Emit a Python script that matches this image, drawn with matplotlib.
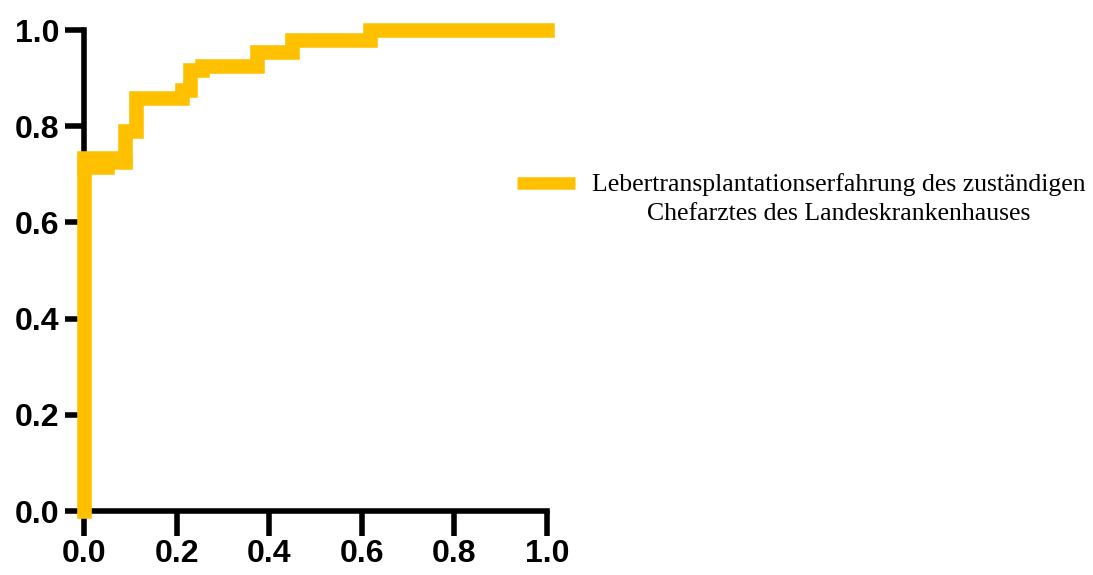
import matplotlib
matplotlib.use("Agg")
import matplotlib.pyplot as plt
from matplotlib.lines import Line2D

# ROC curve (1 - specificity, sensitivity)
fpr = [0.000, 0.000, 0.0886, 0.0886, 0.112, 0.112, 0.211, 0.211, 0.230, 0.230,
       0.254, 0.254, 0.374, 0.374, 0.450, 0.450, 0.617, 0.617, 1.000]
tpr = [0.000, 0.733, 0.733, 0.790, 0.790, 0.859, 0.859, 0.876, 0.876, 0.916,
       0.916, 0.926, 0.926, 0.954, 0.954, 0.980, 0.980, 1.000, 1.000]
# small lower step visible under the first plateau
fpr_low = [0.000, 0.049, 0.049, 0.0886]
tpr_low = [0.715, 0.715, 0.726, 0.726]

xticks = [0.0, 0.2, 0.4, 0.6, 0.8, 1.0]
yticks = [0.0, 0.2, 0.4, 0.6, 0.8, 1.0]
series_label = "Lebertransplantationserfahrung des zuständigen\nChefarztes des Landeskrankenhauses"
color = "#FFC000"

fig = plt.figure(figsize=(10.93, 5.75), dpi=100)
ax = fig.add_axes([84 / 1093, 63.8 / 575, 463 / 1093, 481.2 / 575])

lw = 10.5
ax.plot(fpr_low, tpr_low, color=color, lw=lw, solid_capstyle="projecting",
        solid_joinstyle="miter", clip_on=False, zorder=3)
ax.plot(fpr, tpr, color=color, lw=lw, solid_capstyle="projecting",
        solid_joinstyle="miter", clip_on=False, zorder=3)

ax.set_xlim(0, 1)
ax.set_ylim(0, 1)
for s in ["top", "right"]:
    ax.spines[s].set_visible(False)
for s in ["left", "bottom"]:
    ax.spines[s].set_linewidth(4)
    ax.spines[s].set_capstyle("projecting")

ax.set_xticks(xticks)
ax.set_yticks(yticks)
ax.set_xticklabels([f"{t:.1f}" for t in xticks])
ax.set_yticklabels([f"{t:.1f}" for t in yticks])
ax.tick_params(axis="x", length=18, width=4, pad=2)
ax.tick_params(axis="y", length=13.5, width=4, pad=4)
for lab in ax.get_xticklabels() + ax.get_yticklabels():
    lab.set_fontfamily("Liberation Sans")
    lab.set_fontweight("bold")
    lab.set_fontsize(23)

handle = Line2D([], [], color=color, lw=9, solid_capstyle="butt")
leg = fig.legend([handle], [series_label], loc="upper left",
                 bbox_to_anchor=(499 / 1093, 1 - 155 / 575), frameon=False,
                 prop={"family": "Liberation Serif", "size": 18.5},
                 handlelength=2.26, handletextpad=0.66, borderpad=0.2)
for t in leg.get_texts():
    t.set_multialignment("center")
    t.set_linespacing(1.44)
# align the handle with the first text line
for h in leg.legend_handles:
    yd = h.get_ydata()
    h.set_ydata([v + 11 for v in yd])

fig.savefig("out.png", dpi=100)
